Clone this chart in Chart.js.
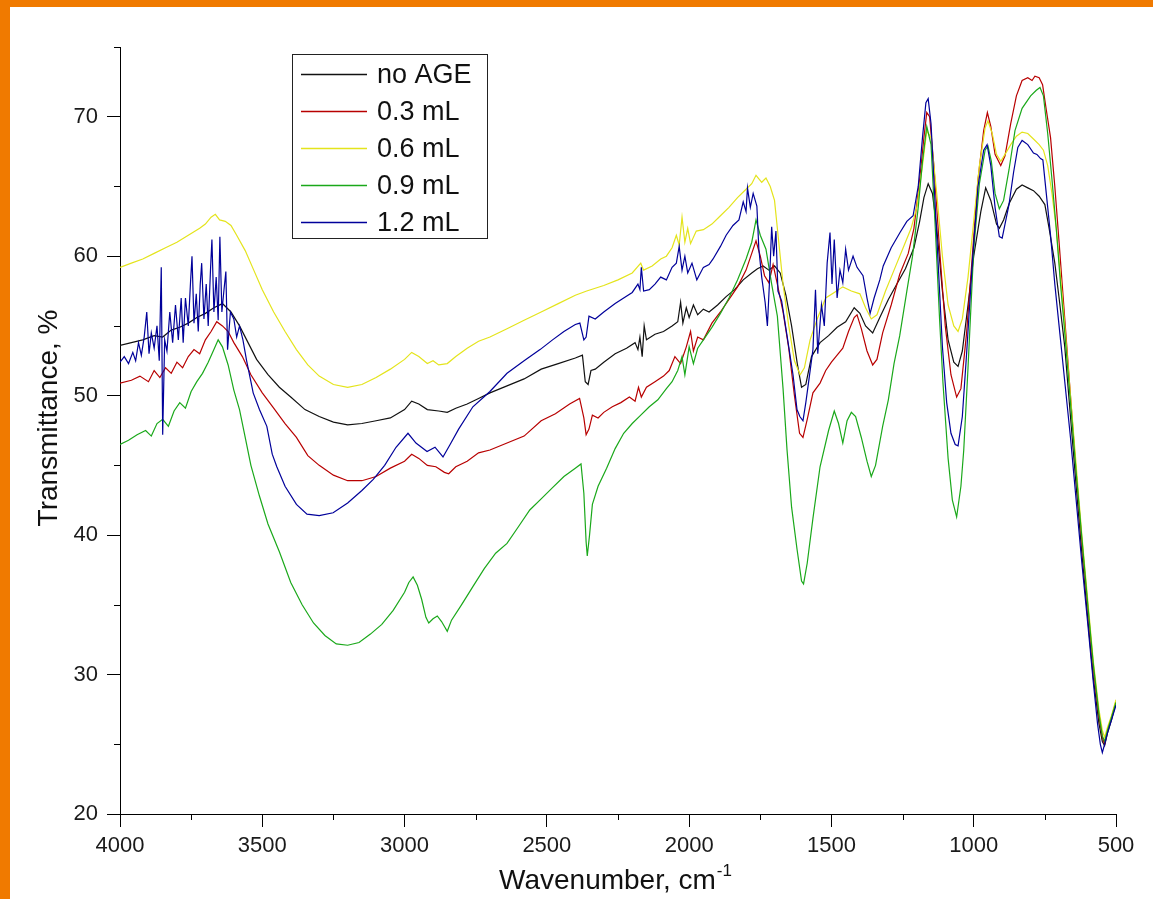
<!DOCTYPE html>
<html>
<head>
<meta charset="utf-8">
<title>FTIR spectra</title>
<script src="https://cdn.jsdelivr.net/npm/chart.js@4.4.1/dist/chart.umd.min.js"></script>
<style>
  html, body { margin: 0; padding: 0; background: #fff; }
  #frame {
    position: absolute; left: 0; top: 0; width: 1153px; height: 899px;
    box-sizing: border-box; border-top: 7px solid #f07a00; border-left: 10px solid #f07a00;
  }
  #chart { position: absolute; left: 0; top: 0; }
</style>
</head>
<body>
<div id="frame"></div>
<canvas id="chart" width="1153" height="899"></canvas>
<script>
// series (wavenumber, cm-1 / transmittance, %)
const seriesNames = ['no AGE', '0.3 mL', '0.6 mL', '0.9 mL', '1.2 mL'];
const seriesColors = ['#111111', '#b80000', '#e4e41c', '#1aa81a', '#00009a'];

const noAgeWn = [
  4000,3960,3920,3880,3850,3820,3790,3760,3730,3700,
  3670,3640,3610,3580,3550,3520,3480,3440,3400,3350,
  3300,3250,3200,3150,3100,3050,3000,2975,2950,2920,
  2880,2850,2820,2780,2740,2700,2640,2580,2520,2460,
  2400,2375,2365,2355,2345,2330,2300,2260,2220,2190,
  2180,2173,2165,2158,2150,2120,2090,2060,2040,2030,
  2022,2010,2000,1985,1970,1950,1930,1900,1870,1840,
  1810,1780,1760,1740,1720,1700,1680,1660,1640,1620,
  1605,1590,1570,1540,1510,1480,1450,1420,1400,1380,
  1355,1330,1300,1270,1240,1210,1190,1175,1160,1145,
  1130,1110,1090,1070,1055,1040,1020,1000,975,958,
  940,920,910,895,875,850,830,810,790,770,
  750,735,715,700,680,660,640,620,600,580,
  560,548,540,530,515,500];
const noAgeT = [
  53.6,53.8,54.0,54.3,54.2,54.7,54.9,55.2,55.6,55.9,
  56.3,56.6,56.0,55.0,53.8,52.6,51.5,50.6,49.9,49.0,
  48.5,48.1,47.9,48.0,48.2,48.4,49.0,49.6,49.4,49.0,
  48.9,48.8,49.1,49.4,49.8,50.2,50.7,51.2,51.9,52.3,
  52.7,52.9,51.0,50.8,51.8,51.9,52.4,53.0,53.4,53.8,
  53.3,54.2,52.8,55.0,54.0,54.4,54.6,55.0,55.3,56.7,
  55.2,56.3,55.6,56.5,55.8,56.2,56.0,56.5,57.1,57.6,
  58.3,58.8,59.1,59.3,59.0,59.3,58.8,57.2,55.0,52.3,
  50.6,50.8,52.8,53.8,54.3,54.9,55.3,56.3,55.9,55.0,
  54.5,55.6,56.9,58.0,59.1,60.6,62.5,64.2,65.2,64.5,
  62.0,57.5,54.0,52.4,52.1,53.2,56.5,60.0,63.2,64.9,
  64.0,62.3,62.0,62.6,63.8,64.8,65.1,64.9,64.7,64.3,
  63.7,62.0,59.5,57.0,53.5,48.5,43.5,38.7,34.2,29.8,
  26.5,25.2,24.9,25.8,26.8,28.0];

const ml03Wn = [
  4000,3960,3930,3900,3880,3860,3840,3820,3800,3780,
  3760,3740,3720,3700,3680,3660,3640,3620,3600,3570,
  3540,3500,3460,3420,3380,3340,3300,3250,3200,3150,
  3100,3050,3000,2975,2950,2920,2890,2860,2845,2820,
  2780,2740,2700,2640,2580,2520,2470,2420,2385,2370,
  2362,2352,2340,2320,2300,2270,2240,2210,2190,2178,
  2168,2150,2120,2090,2070,2050,2030,2010,1995,1985,
  1970,1950,1920,1890,1860,1830,1800,1780,1765,1750,
  1735,1720,1705,1690,1670,1650,1630,1612,1600,1585,
  1565,1540,1520,1500,1480,1460,1440,1420,1410,1395,
  1375,1355,1340,1320,1290,1260,1230,1210,1190,1175,
  1165,1155,1140,1120,1100,1080,1060,1045,1025,1005,
  985,965,952,940,925,905,890,870,850,830,
  810,795,785,770,758,745,730,715,700,680,
  660,640,620,600,580,560,548,540,530,515,
  500];
const ml03T = [
  50.9,51.1,51.4,51.0,51.8,51.3,52.0,51.6,52.4,52.0,
  52.8,53.3,53.0,54.0,54.6,55.3,55.0,54.6,53.8,52.8,
  51.5,50.2,49.1,48.0,47.0,45.7,45.0,44.3,43.9,43.9,
  44.2,44.8,45.3,45.8,45.5,45.0,44.9,44.5,44.4,44.9,
  45.3,45.9,46.1,46.6,47.1,48.2,48.7,49.4,49.8,48.4,
  47.2,47.6,48.6,48.4,48.8,49.2,49.5,49.9,49.6,50.6,
  49.9,50.6,51.0,51.4,51.8,52.8,52.3,53.5,54.6,53.2,
  54.2,54.0,55.2,56.0,56.9,57.8,59.0,60.2,61.1,60.0,
  58.6,58.1,59.4,58.0,56.0,53.4,50.0,47.3,47.0,48.3,
  50.2,50.9,51.8,52.4,52.9,53.4,54.6,55.6,55.8,54.8,
  53.2,52.2,52.6,54.5,56.5,58.7,60.2,62.0,65.5,68.5,
  70.3,70.0,66.5,60.5,55.0,51.5,49.9,50.5,54.5,60.0,
  65.5,69.0,70.3,69.3,67.3,66.5,67.2,69.5,71.5,72.6,
  72.8,72.6,72.9,72.8,72.3,70.5,68.5,65.0,61.0,55.5,
  50.0,44.5,39.5,35.0,30.5,27.0,25.5,25.0,26.0,27.0,
  28.1];

const ml06Wn = [
  4000,3960,3920,3880,3840,3800,3760,3720,3700,3680,
  3665,3650,3630,3610,3590,3560,3530,3500,3460,3420,
  3380,3340,3300,3250,3200,3150,3100,3050,3000,2975,
  2950,2920,2900,2880,2850,2820,2780,2740,2700,2640,
  2580,2520,2460,2400,2360,2300,2250,2200,2170,2160,
  2130,2100,2080,2060,2045,2035,2025,2015,2005,1995,
  1975,1950,1920,1890,1860,1830,1800,1780,1765,1745,
  1730,1715,1700,1685,1670,1650,1630,1610,1595,1575,
  1550,1520,1490,1460,1430,1400,1380,1360,1340,1310,
  1280,1250,1220,1200,1180,1165,1150,1130,1110,1090,
  1070,1055,1040,1020,1000,980,960,950,935,920,
  905,890,870,850,830,810,790,770,755,740,
  725,710,695,680,660,640,620,600,580,560,
  548,540,530,515,500];
const ml06T = [
  59.2,59.5,59.8,60.2,60.6,61.0,61.5,62.0,62.3,62.8,
  63.0,62.6,62.5,62.2,61.5,60.4,59.0,57.6,56.0,54.6,
  53.3,52.2,51.4,50.8,50.6,50.8,51.3,51.9,52.6,53.1,
  52.8,52.3,52.5,52.2,52.3,52.8,53.4,53.9,54.2,54.8,
  55.4,56.0,56.6,57.2,57.5,57.9,58.3,58.8,59.5,59.0,
  59.3,59.8,60.0,60.6,61.5,60.8,62.8,61.0,62.0,60.9,
  61.8,61.9,62.3,62.9,63.5,64.2,64.8,65.2,65.8,65.3,
  65.6,65.0,64.0,61.0,58.0,55.0,52.5,51.5,52.0,54.0,
  55.5,57.0,57.4,57.8,57.5,57.3,56.3,55.5,55.8,57.5,
  59.0,60.5,62.0,63.5,66.5,69.0,68.5,64.5,60.0,56.5,
  55.0,54.6,55.5,58.5,62.5,66.5,69.2,69.7,68.8,67.3,
  66.8,67.3,68.0,68.6,68.9,68.8,68.4,68.0,67.6,66.5,
  64.5,62.0,58.5,55.0,50.0,45.0,40.0,35.5,31.0,27.5,
  26.0,25.5,26.2,27.1,28.2];

const ml09Wn = [
  4000,3970,3940,3910,3890,3870,3850,3830,3810,3790,
  3770,3750,3730,3710,3690,3670,3655,3640,3620,3600,
  3580,3560,3540,3510,3480,3440,3400,3360,3320,3280,
  3240,3200,3160,3120,3080,3040,3000,2985,2970,2955,
  2940,2925,2915,2900,2885,2870,2850,2835,2800,2760,
  2720,2680,2640,2600,2560,2520,2480,2440,2400,2380,
  2370,2362,2358,2350,2340,2320,2290,2260,2230,2200,
  2170,2140,2110,2080,2060,2040,2025,2015,2000,1985,
  1970,1950,1920,1890,1860,1830,1800,1780,1765,1750,
  1730,1710,1690,1670,1656,1640,1621,1605,1598,1585,
  1565,1540,1510,1490,1475,1460,1445,1430,1415,1395,
  1375,1360,1345,1320,1300,1280,1260,1235,1215,1195,
  1180,1165,1150,1135,1120,1108,1090,1075,1060,1045,
  1035,1020,1000,980,960,950,938,925,910,895,
  876,855,830,800,780,767,755,740,725,710,
  695,680,660,640,620,600,580,560,548,540,
  530,515,500];
const ml09T = [
  46.5,46.8,47.2,47.5,47.1,48.0,48.3,47.8,48.9,49.5,
  49.1,50.3,51.0,51.6,52.4,53.3,54.0,53.5,52.2,50.4,
  49.0,47.0,45.0,42.8,40.8,38.8,36.6,35.0,33.7,32.8,
  32.2,32.1,32.3,32.9,33.6,34.6,35.9,36.6,37.0,36.4,
  35.4,34.1,33.7,34.0,34.2,33.8,33.1,33.9,35.0,36.3,
  37.6,38.7,39.4,40.6,41.8,42.6,43.4,44.2,44.8,45.1,
  43.0,39.5,38.5,40.0,42.2,43.5,44.8,46.2,47.3,48.0,
  48.6,49.2,49.7,50.5,51.0,51.8,52.8,51.5,53.5,52.3,
  53.4,54.0,54.9,55.9,57.0,58.3,59.8,61.0,62.6,61.5,
  60.5,58.0,55.7,50.5,46.1,42.0,39.0,36.7,36.5,38.0,
  41.2,44.9,47.5,48.9,48.0,46.6,48.2,48.8,48.5,47.0,
  45.3,44.2,45.0,47.8,49.7,52.3,54.3,57.5,60.0,63.5,
  66.8,69.3,68.0,62.0,55.5,50.9,45.5,42.5,41.3,43.5,
  46.1,52.0,60.5,65.2,67.6,67.9,66.8,64.5,63.4,64.0,
  66.2,69.0,70.6,71.5,71.9,72.1,71.5,68.8,65.5,62.0,
  58.0,54.5,49.5,44.5,39.8,35.2,30.8,27.2,25.6,25.2,
  26.0,27.0,28.0];

const ml12Wn = [
  4000,3985,3970,3955,3945,3935,3925,3915,3906,3898,
  3890,3880,3870,3862,3855,3850,3843,3835,3825,3815,
  3805,3795,3785,3778,3770,3760,3752,3747,3740,3732,
  3725,3718,3713,3705,3697,3690,3682,3677,3670,3662,
  3655,3649,3642,3635,3628,3622,3612,3600,3590,3580,
  3568,3555,3540,3532,3510,3484,3465,3449,3420,3380,
  3343,3300,3251,3200,3150,3110,3070,3030,2988,2960,
  2921,2893,2865,2840,2810,2760,2700,2640,2580,2524,
  2480,2440,2400,2384,2370,2362,2352,2330,2300,2260,
  2230,2200,2180,2173,2168,2160,2140,2120,2100,2080,
  2060,2045,2035,2025,2015,2005,1990,1973,1950,1930,
  1916,1890,1870,1846,1825,1810,1800,1795,1785,1775,
  1762,1755,1745,1733,1725,1718,1710,1703,1695,1688,
  1675,1656,1635,1621,1611,1600,1590,1580,1565,1556,
  1548,1535,1525,1515,1505,1498,1490,1480,1470,1460,
  1450,1440,1424,1410,1389,1375,1364,1350,1330,1318,
  1290,1259,1235,1213,1195,1180,1168,1160,1150,1140,
  1125,1110,1095,1080,1065,1055,1040,1025,1005,985,
  965,953,940,925,910,900,890,876,860,845,
  830,810,790,778,765,757,745,730,715,700,
  680,660,640,620,600,580,565,555,548,540,
  530,515,500];
const ml12T = [
  52.4,52.8,52.3,53.1,52.5,53.8,52.9,54.2,56.0,53.0,
  54.5,53.4,55.0,52.5,59.2,47.2,54.0,53.2,56.0,53.8,
  56.5,54.0,57.0,53.8,57.0,55.0,58.2,60.0,55.2,57.3,
  54.6,58.0,59.5,55.5,58.0,55.0,59.0,61.2,56.0,58.5,
  55.4,61.4,56.0,57.5,58.9,53.3,56.0,55.5,54.2,55.0,
  54.0,52.5,51.0,50.2,49.0,47.8,45.8,44.9,43.5,42.2,
  41.5,41.4,41.6,42.3,43.2,44.0,45.0,46.3,47.3,46.6,
  46.0,46.3,45.6,46.5,47.6,49.2,50.3,51.6,52.5,53.3,
  54.0,54.6,55.1,55.2,54.0,54.2,55.7,55.5,56.0,56.6,
  57.0,57.4,58.0,57.6,59.2,57.5,57.6,58.0,58.5,58.3,
  59.2,59.5,60.7,59.0,60.0,58.8,59.5,58.3,59.2,59.4,
  59.8,60.7,61.5,62.2,62.6,63.9,63.2,64.9,63.5,64.5,
  63.6,60.5,58.5,56.7,55.0,58.0,62.1,60.0,61.8,57.5,
  56.8,54.3,51.5,49.0,48.5,48.2,49.5,51.0,53.3,57.6,
  53.0,56.5,55.0,59.5,61.7,58.0,61.2,57.0,59.0,58.1,
  60.5,59.0,60.0,59.2,58.6,57.0,55.9,57.0,58.3,59.3,
  60.6,61.7,62.5,62.9,65.0,68.5,71.0,71.3,69.5,65.5,
  59.5,53.5,49.5,47.3,46.5,46.4,48.5,53.0,59.5,65.0,
  67.6,68.0,66.5,63.5,61.4,61.3,62.3,63.7,66.0,67.8,
  68.3,68.0,67.4,67.3,67.0,66.9,64.5,61.5,58.0,55.0,
  51.0,47.0,42.5,38.0,33.8,29.5,26.5,25.0,24.4,25.0,
  25.8,26.8,27.8];

// axis ticks
const xMajorStep = 500;
const xMinorTicks = [3750, 3250, 2750, 2250, 1750, 1250, 750];
const yMajorStep = 10;
const yMinorTicks = [25, 35, 45, 55, 65, 75];

const wnLists = [noAgeWn, ml03Wn, ml06Wn, ml09Wn, ml12Wn];
const tLists = [noAgeT, ml03T, ml06T, ml09T, ml12T];

const FONT = "'Liberation Sans', Arial, sans-serif";

const datasets = seriesNames.map((name, i) => ({
    label: name,
    data: wnLists[i].map((w, j) => ({ x: w, y: tLists[i][j] })),
    borderColor: seriesColors[i],
    borderWidth: 1.2,
    pointRadius: 0,
    tension: 0,
    order: seriesNames.length - i
}));

// minor ticks, axis titles and the boxed legend
const decorPlugin = {
    id: 'decor',
    afterDraw(chart) {
        const ctx = chart.ctx;
        const xs = chart.scales.x, ys = chart.scales.y, area = chart.chartArea;
        ctx.save();
        ctx.strokeStyle = '#000';
        ctx.lineWidth = 1;
        ctx.beginPath();
        xMinorTicks.forEach(v => {
            const px = Math.round(xs.getPixelForValue(v)) + 0.5;
            ctx.moveTo(px, area.bottom);
            ctx.lineTo(px, area.bottom + 6);
        });
        yMinorTicks.forEach(v => {
            const py = Math.round(ys.getPixelForValue(v)) + 0.5;
            ctx.moveTo(area.left, py);
            ctx.lineTo(area.left - 6, py);
        });
        ctx.stroke();

        // x title with superscript
        ctx.fillStyle = '#111';
        ctx.textBaseline = 'alphabetic';
        ctx.textAlign = 'left';
        const main = 'Wavenumber, cm';
        const sup = '-1';
        ctx.font = '28px ' + FONT;
        const w1 = ctx.measureText(main).width;
        ctx.font = '17px ' + FONT;
        const w2 = ctx.measureText(sup).width;
        const x0 = 615 - (w1 + w2) / 2;
        ctx.font = '28px ' + FONT;
        ctx.fillText(main, x0, 889);
        ctx.font = '17px ' + FONT;
        ctx.fillText(sup, x0 + w1 + 1, 876);

        // y title
        ctx.save();
        ctx.translate(57, 418);
        ctx.rotate(-Math.PI / 2);
        ctx.textAlign = 'center';
        ctx.font = '28px ' + FONT;
        ctx.fillText('Transmittance, %', 0, 0);
        ctx.restore();

        // legend
        ctx.strokeStyle = '#222';
        ctx.strokeRect(292.5, 54.5, 195, 184);
        ctx.font = '27px ' + FONT;
        ctx.textBaseline = 'middle';
        ctx.textAlign = 'left';
        seriesNames.forEach((name, i) => {
            const ly = 74 + i * 37;
            ctx.strokeStyle = seriesColors[i];
            ctx.lineWidth = 1.3;
            ctx.beginPath();
            ctx.moveTo(301, ly + 0.5);
            ctx.lineTo(367, ly + 0.5);
            ctx.stroke();
            ctx.fillStyle = '#111';
            ctx.fillText(name, 377, ly + 2);
        });
        ctx.restore();
    }
};

new Chart(document.getElementById('chart'), {
    type: 'line',
    data: { datasets },
    options: {
        responsive: false,
        animation: false,
        layout: { padding: { left: 0, top: 47, right: 37, bottom: 0 } },
        plugins: { legend: { display: false }, tooltip: { enabled: false } },
        scales: {
            x: {
                type: 'linear',
                reverse: true,
                min: 500,
                max: 4000,
                afterFit: s => { s.height = 85; },
                grid: { drawOnChartArea: false, tickLength: 13, color: '#000', lineWidth: 1 },
                border: { display: true, color: '#000', width: 1 },
                ticks: {
                    stepSize: xMajorStep, autoSkip: false, maxRotation: 0,
                    padding: 6, color: '#1a1a1a',
                    font: { family: FONT, size: 22 },
                    callback: v => String(v)
                }
            },
            y: {
                min: 20,
                max: 75,
                afterFit: s => { s.width = 120; },
                grid: { drawOnChartArea: false, tickLength: 13, color: '#000', lineWidth: 1 },
                border: { display: true, color: '#000', width: 1 },
                ticks: {
                    stepSize: yMajorStep, includeBounds: false, autoSkip: false,
                    padding: 9, color: '#1a1a1a',
                    font: { family: FONT, size: 22 },
                    callback: v => String(v)
                }
            }
        }
    },
    plugins: [decorPlugin]
});
</script>
</body>
</html>
